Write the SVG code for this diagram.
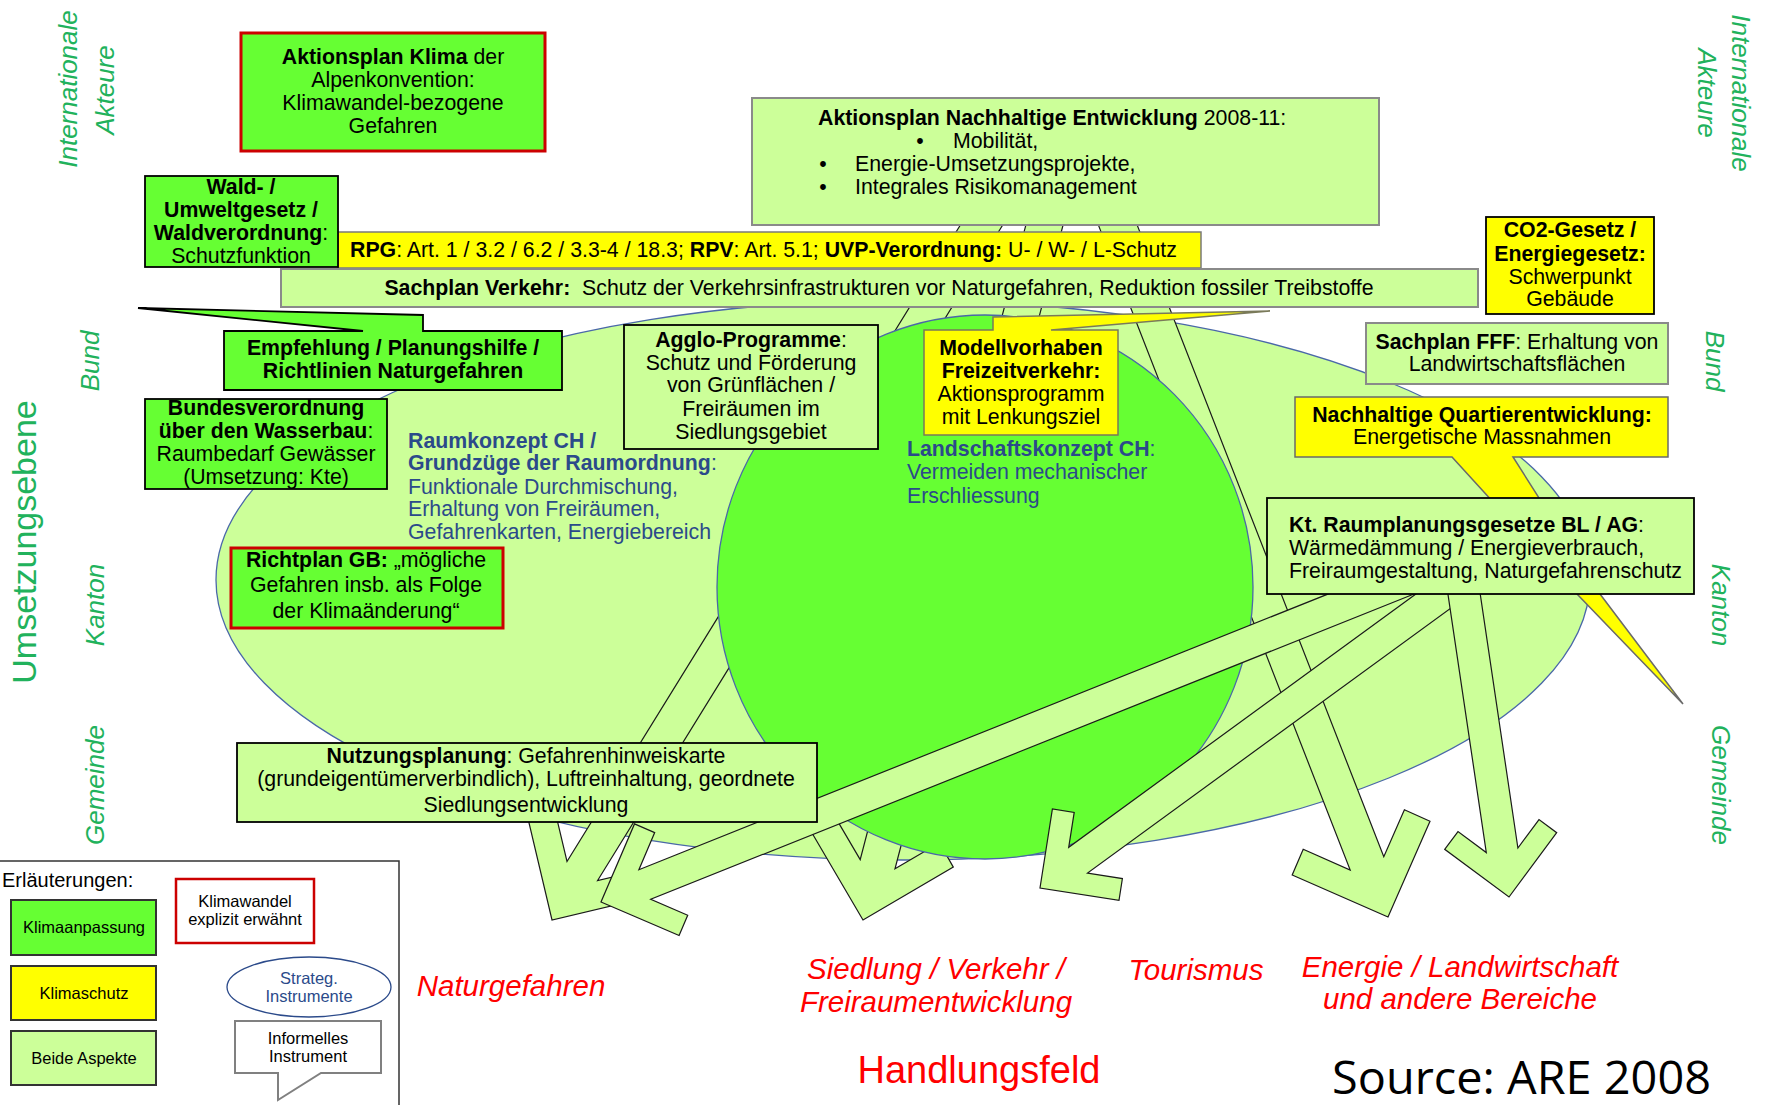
<svg xmlns="http://www.w3.org/2000/svg" width="1767" height="1105" viewBox="0 0 1767 1105">
<defs>
<style>
.t{font-family:"Liberation Sans",Arial,sans-serif;font-size:21.3px;fill:#000}
.c{text-anchor:middle}
.b{font-weight:bold}
.blue{fill:#2b4a8a}
.lab{font-family:"Liberation Sans",Arial,sans-serif;font-style:italic;font-size:26px;fill:#21b25c;text-anchor:middle}
.red{font-family:"Liberation Sans",Arial,sans-serif;font-style:italic;font-size:29.5px;fill:#ff0000;text-anchor:middle}
.lgt{font-family:"Liberation Sans",Arial,sans-serif;font-size:16.5px;fill:#000;text-anchor:middle}
.arr{fill:#ccff99;stroke:#1a1a1a;stroke-width:1.2;stroke-linejoin:miter}
.g1{fill:#66ff33}
.g2{fill:#ccff99}
.yl{fill:#ffff00}
.kb{stroke:#000;stroke-width:1.8}
.gb{stroke:#8a8a8a;stroke-width:2}
.rb{stroke:#cc0000;stroke-width:3}
</style>
</defs>
<rect width="1767" height="1105" fill="#ffffff"/>

<g id="raumkonzept-area">
<ellipse cx="903" cy="580" rx="687" ry="280" class="g2" stroke="#4a68a8" stroke-width="1.3"/>
</g>

<g id="connectors-behind">
<polygon class="arr" points="981.7,190.5 567,861.5 555.1,811.4 527.9,818.1 552,920 653.9,895.9 647.7,868.6 597.6,880.5 1012.3,209.5"/>
<polygon class="arr" points="1033.6,195.4 860.2,859.6 834.1,815.2 810.1,829.7 863,920 953.3,867.1 939.5,842.8 895,868.8 1068.4,204.6"/>
<polygon class="arr" points="1091.2,206.6 1350.2,870 1303.2,849.3 1292.2,875 1388,917 1430,821.2 1404.4,809.7 1383.8,856.8 1124.8,193.4"/>
</g>

<g id="landschaftskonzept-area">
<ellipse cx="985" cy="587" rx="268" ry="272" class="g1" stroke="#4a68a8" stroke-width="1.3"/>
</g>

<g id="connectors">
<polygon class="arr" points="1424.1,555.6 638.9,869.7 654.7,832.6 634.5,823.9 601,902 679.1,935.5 687.7,915.2 650.7,899.3 1435.9,585.2"/>
<polygon class="arr" points="1466.6,557.1 1068.7,847.3 1074.2,812.4 1052.4,809 1040,888 1119,900.4 1122.4,878.6 1087.5,873.1 1485.4,582.9"/>
<polygon class="arr" points="1446.2,582.3 1486.3,852.6 1458,831.6 1444.7,849.3 1509,897 1556.7,832.7 1539,819.6 1517.9,848 1477.8,577.7"/>
</g>

<g id="node-aktionsplan-ne">
<rect x="752" y="98" width="627" height="127" class="g2 gb"/>
<text class="t" x="818" y="125"><tspan class="b">Aktionsplan Nachhaltige Entwicklung</tspan> 2008-11:</text>
<text class="t c" x="920" y="148">•</text>
<text class="t" x="953" y="148">Mobilität,</text>
<text class="t c" x="823" y="171">•</text>
<text class="t" x="855" y="171">Energie-Umsetzungsprojekte,</text>
<text class="t c" x="823" y="194">•</text>
<text class="t" x="855" y="194">Integrales Risikomanagement</text>
</g>

<g id="node-rpg">
<rect x="338" y="232" width="863" height="36" class="yl" stroke="#7a7a7a" stroke-width="1.5"/>
<text class="t" x="350" y="257"><tspan class="b">RPG</tspan>: Art. 1 / 3.2 / 6.2 / 3.3-4 / 18.3; <tspan class="b">RPV</tspan>: Art. 5.1; <tspan class="b">UVP-Verordnung:</tspan> U- / W- / L-Schutz</text>
</g>

<g id="node-sachplan-verkehr">
<rect x="281" y="269" width="1197" height="38" class="g2 gb"/>
<text class="t c" x="879" y="295"><tspan class="b">Sachplan Verkehr:</tspan>&#160; Schutz der Verkehrsinfrastrukturen vor Naturgefahren, Reduktion fossiler Treibstoffe</text>
</g>

<g id="node-wald">
<rect x="145" y="176" width="193" height="91" class="g1 kb"/>
<text class="t c b" x="241" y="194">Wald- /</text>
<text class="t c b" x="241" y="217">Umweltgesetz /</text>
<text class="t c" x="241" y="240"><tspan class="b">Waldverordnung</tspan>:</text>
<text class="t c" x="241" y="263">Schutzfunktion</text>
</g>

<g id="node-aktionsplan-klima">
<rect x="241" y="33" width="304" height="118" class="g1 rb"/>
<text class="t c" x="393" y="64"><tspan class="b">Aktionsplan Klima</tspan> der</text>
<text class="t c" x="393" y="87">Alpenkonvention:</text>
<text class="t c" x="393" y="110">Klimawandel-bezogene</text>
<text class="t c" x="393" y="133">Gefahren</text>
</g>

<g id="node-empfehlung">
<path d="M224,331 L363,331 L138,308 L423,315 L423,331 L562,331 L562,390 L224,390 Z" class="g1 kb"/>
<text class="t c b" x="393" y="355">Empfehlung / Planungshilfe /</text>
<text class="t c b" x="393" y="378">Richtlinien Naturgefahren</text>
</g>

<g id="node-bundesverordnung">
<rect x="145" y="399" width="242" height="90" class="g1 kb"/>
<text class="t c b" x="266" y="415">Bundesverordnung</text>
<text class="t c" x="266" y="438"><tspan class="b">über den Wasserbau</tspan>:</text>
<text class="t c" x="266" y="461">Raumbedarf Gewässer</text>
<text class="t c" x="266" y="484">(Umsetzung: Kte)</text>
</g>

<g id="node-agglo">
<rect x="624" y="325" width="254" height="124" class="g2 kb"/>
<text class="t c" x="751" y="347"><tspan class="b">Agglo-Programme</tspan>:</text>
<text class="t c" x="751" y="370">Schutz und Förderung</text>
<text class="t c" x="751" y="392">von Grünflächen /</text>
<text class="t c" x="751" y="416">Freiräumen im</text>
<text class="t c" x="751" y="439">Siedlungsgebiet</text>
</g>

<g id="node-modellvorhaben">
<path d="M924,330 L993,330 L993,317 L1270,311 L1051,330 L1118,330 L1118,435 L924,435 Z" class="yl" stroke="#7a7a5a" stroke-width="1.5"/>
<text class="t c b" x="1021" y="355">Modellvorhaben</text>
<text class="t c b" x="1021" y="378">Freizeitverkehr:</text>
<text class="t c" x="1021" y="401">Aktionsprogramm</text>
<text class="t c" x="1021" y="424">mit Lenkungsziel</text>
</g>

<g id="node-richtplan">
<rect x="231" y="548" width="272" height="80" class="g1 rb"/>
<text class="t c" x="366" y="567"><tspan class="b">Richtplan GB:</tspan> „mögliche</text>
<text class="t c" x="366" y="592">Gefahren insb. als Folge</text>
<text class="t c" x="366" y="618">der Klimaänderung“</text>
</g>

<g id="node-nutzungsplanung">
<rect x="237" y="743" width="580" height="79" class="g2 kb"/>
<text class="t c" x="526" y="763"><tspan class="b">Nutzungsplanung</tspan>: Gefahrenhinweiskarte</text>
<text class="t c" x="526" y="786">(grundeigentümerverbindlich), Luftreinhaltung, geordnete</text>
<text class="t c" x="526" y="812">Siedlungsentwicklung</text>
</g>

<g id="node-co2">
<rect x="1486" y="217" width="168" height="97" class="yl kb"/>
<text class="t c b" x="1570" y="237">CO2-Gesetz /</text>
<text class="t c b" x="1570" y="261">Energiegesetz:</text>
<text class="t c" x="1570" y="284">Schwerpunkt</text>
<text class="t c" x="1570" y="306">Gebäude</text>
</g>

<g id="node-fff">
<rect x="1366" y="323" width="302" height="61" class="g2 gb"/>
<text class="t c" x="1517" y="349"><tspan class="b">Sachplan FFF</tspan>: Erhaltung von</text>
<text class="t c" x="1517" y="371">Landwirtschaftsflächen</text>
</g>

<g id="node-quartier">
<path d="M1295,397 L1668,397 L1668,457 L1513,457 L1600,594 L1683,704 L1577,594 L1452,457 L1295,457 Z" class="yl" stroke="#6a6a6a" stroke-width="1.5"/>
<text class="t c b" x="1482" y="422">Nachhaltige Quartierentwicklung:</text>
<text class="t c" x="1482" y="444">Energetische Massnahmen</text>
</g>

<g id="node-kt">
<rect x="1267" y="498" width="427" height="96" class="g2 kb"/>
<text class="t" x="1289" y="532"><tspan class="b">Kt. Raumplanungsgesetze BL / AG</tspan>:</text>
<text class="t" x="1289" y="555">Wärmedämmung / Energieverbrauch,</text>
<text class="t" x="1289" y="578">Freiraumgestaltung, Naturgefahrenschutz</text>
</g>

<g id="raumkonzept-label">
<text class="t blue" x="408" y="448"><tspan class="b">Raumkonzept CH /</tspan></text>
<text class="t blue" x="408" y="470"><tspan class="b">Grundzüge der Raumordnung</tspan>:</text>
<text class="t blue" x="408" y="494">Funktionale Durchmischung,</text>
<text class="t blue" x="408" y="516">Erhaltung von Freiräumen,</text>
<text class="t blue" x="408" y="539">Gefahrenkarten, Energiebereich</text>
</g>

<g id="landschaftskonzept-label">
<text class="t blue" x="907" y="456"><tspan class="b">Landschaftskonzept CH</tspan>:</text>
<text class="t blue" x="907" y="479">Vermeiden mechanischer</text>
<text class="t blue" x="907" y="503">Erschliessung</text>
</g>

<g id="level-labels">
<text class="lab" transform="translate(77,89) rotate(-90)">Internationale</text>
<text class="lab" transform="translate(114,90) rotate(-90)">Akteure</text>
<text class="lab" transform="translate(99,361) rotate(-90)">Bund</text>
<text class="lab" transform="translate(104,605) rotate(-90)">Kanton</text>
<text class="lab" transform="translate(104,785) rotate(-90)">Gemeinde</text>
<text transform="translate(36,542) rotate(-90)" style="font-family:'Liberation Sans',Arial,sans-serif;font-size:34px;fill:#21b25c;text-anchor:middle">Umsetzungsebene</text>
<text class="lab" transform="translate(1732,93) rotate(90)">Internationale</text>
<text class="lab" transform="translate(1698,93) rotate(90)">Akteure</text>
<text class="lab" transform="translate(1706,361) rotate(90)">Bund</text>
<text class="lab" transform="translate(1712,605) rotate(90)">Kanton</text>
<text class="lab" transform="translate(1712,785) rotate(90)">Gemeinde</text>
</g>

<g id="fields">
<text class="red" x="511" y="996">Naturgefahren</text>
<text class="red" x="936" y="979">Siedlung / Verkehr /</text>
<text class="red" x="936" y="1012">Freiraumentwicklung</text>
<text class="red" x="1196" y="980">Tourismus</text>
<text class="red" x="1460" y="977">Energie / Landwirtschaft</text>
<text class="red" x="1460" y="1009">und andere Bereiche</text>
<text x="979" y="1083" style="font-family:'Liberation Sans',Arial,sans-serif;font-size:38px;fill:#ff0000;text-anchor:middle">Handlungsfeld</text>
<text x="1332" y="1094" textLength="379" lengthAdjust="spacingAndGlyphs" style="font-family:'Open Sans','Noto Sans',sans-serif;font-size:45px;fill:#000">Source: ARE 2008</text>
</g>

<g id="legend">
<path d="M0,861 L399,861 L399,1105" fill="none" stroke="#333" stroke-width="1.5"/>
<text x="2" y="887" style="font-family:'Liberation Sans',Arial,sans-serif;font-size:20px;fill:#000">Erläuterungen:</text>
<rect x="11" y="900" width="145" height="55" class="g1" stroke="#333" stroke-width="2"/>
<text class="lgt" x="84" y="933">Klimaanpassung</text>
<rect x="11" y="966" width="145" height="54" class="yl" stroke="#333" stroke-width="2"/>
<text class="lgt" x="84" y="999">Klimaschutz</text>
<rect x="11" y="1031" width="145" height="54" class="g2" stroke="#333" stroke-width="2"/>
<text class="lgt" x="84" y="1064">Beide Aspekte</text>
<rect x="176" y="879" width="138" height="64" fill="#fff" stroke="#cc0000" stroke-width="2.5"/>
<text class="lgt" x="245" y="907">Klimawandel</text>
<text class="lgt" x="245" y="925">explizit erwähnt</text>
<ellipse cx="309" cy="987" rx="82" ry="30" fill="#fff" stroke="#2b4a8a" stroke-width="1.3"/>
<text class="lgt" x="309" y="984" style="fill:#2b4a8a">Strateg.</text>
<text class="lgt" x="309" y="1002" style="fill:#2b4a8a">Instrumente</text>
<path d="M235,1021 L381,1021 L381,1073 L321,1073 L278,1100 L278,1073 L235,1073 Z" fill="#fff" stroke="#808080" stroke-width="2"/>
<text class="lgt" x="308" y="1044">Informelles</text>
<text class="lgt" x="308" y="1062">Instrument</text>
</g>
</svg>
